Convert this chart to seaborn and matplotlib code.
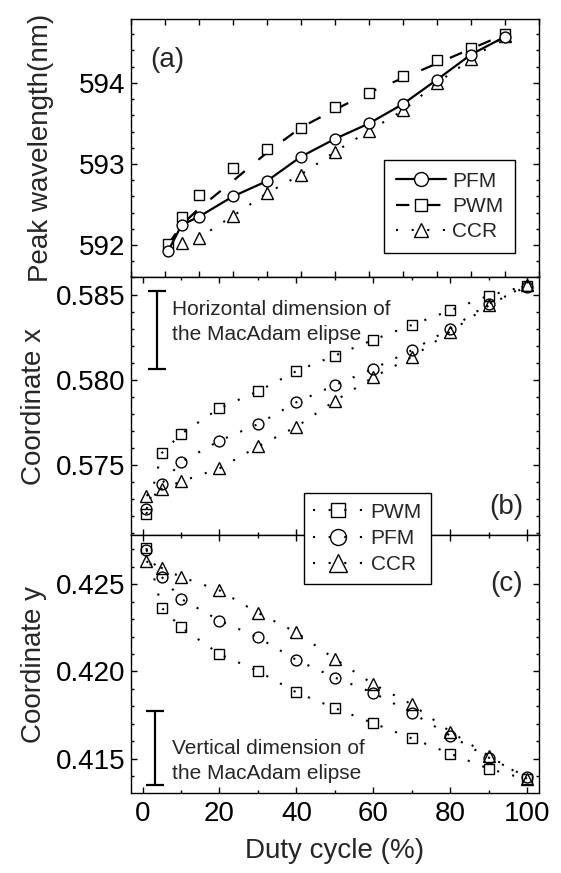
import numpy as np
import pandas as pd
import matplotlib
matplotlib.use("Agg")
import matplotlib.pyplot as plt
import seaborn as sns
from matplotlib.lines import Line2D
from matplotlib.ticker import MultipleLocator, FormatStrFormatter

# ---------------- data ----------------
duty = [1, 5, 10, 20, 30, 40, 50, 60, 70, 80, 90, 100]

# (a) peak wavelength (nm)
peak_pfm = [591.93, 592.25, 592.35, 592.60, 592.79, 593.09, 593.31, 593.50, 593.74, 594.04, 594.35, 594.57]
peak_pwm = [592.01, 592.35, 592.62, 592.95, 593.18, 593.44, 593.70, 593.87, 594.09, 594.28, 594.43, 594.60]
duty_ccr_a = [5, 10, 20, 30, 40, 50, 60, 70, 80, 90, 100]
peak_ccr = [592.03, 592.09, 592.36, 592.64, 592.87, 593.15, 593.41, 593.66, 594.00, 594.29, 594.58]
# dashed guide line for PWM in (a)
pwm_line_x = [1, 5, 10, 15, 20, 30, 40, 50, 60, 70, 80, 90, 100]
pwm_line_y = [592.01, 592.25, 592.45, 592.62, 592.79, 593.14, 593.45, 593.67, 593.88, 594.06, 594.24, 594.42, 594.60]

# (b) coordinate x
cx_pwm = [0.57210, 0.57568, 0.57680, 0.57832, 0.57931, 0.58050, 0.58141, 0.58234, 0.58321, 0.58407, 0.58494, 0.58552]
cx_pfm = [0.57240, 0.57388, 0.57514, 0.57641, 0.57738, 0.57867, 0.57967, 0.58064, 0.58172, 0.58299, 0.58446, 0.58546]
cx_ccr = [0.57318, 0.57357, 0.57401, 0.57478, 0.57607, 0.57723, 0.57875, 0.58014, 0.58133, 0.58282, 0.58436, 0.58558]

# (c) coordinate y
cy_pwm = [0.42707, 0.42365, 0.42253, 0.42100, 0.42002, 0.41880, 0.41790, 0.41703, 0.41616, 0.41529, 0.41442, 0.41381]
cy_pfm = [0.42697, 0.42542, 0.42417, 0.42292, 0.42195, 0.42066, 0.41965, 0.41877, 0.41763, 0.41632, 0.41506, 0.41394]
cy_ccr = [0.42631, 0.42593, 0.42542, 0.42465, 0.42336, 0.42224, 0.42072, 0.41927, 0.41811, 0.41655, 0.41516, 0.41384]

# MacAdam ellipse dimension bars
macadam_b = dict(x=3.8, center=0.58291, half=0.00229)
macadam_c = dict(x=3.3, center=0.41563, half=0.00213)

labels_a = ["PFM", "PWM", "CCR"]
labels_bc = ["PWM", "PFM", "CCR"]

# ---------------- style ----------------
sns.set_theme(style="ticks")
plt.rcParams["font.family"] = ["Liberation Sans", "DejaVu Sans"]
plt.rcParams["axes.linewidth"] = 1.0
plt.rcParams["axes.edgecolor"] = "black"
plt.rcParams["xtick.color"] = "black"
plt.rcParams["ytick.color"] = "black"

DOT = (0, (1.0, 6.5))
DASH = (0, (6.0, 8.0))

fig = plt.figure(figsize=(5.61, 8.73), dpi=100)
gs = fig.add_gridspec(3, 1, left=0.233, right=0.961, top=0.978, bottom=0.0916, hspace=0)
ax_a = fig.add_subplot(gs[0])
ax_b = fig.add_subplot(gs[1])
ax_c = fig.add_subplot(gs[2])

common_marker = dict(color="black", markeredgecolor="black", markeredgewidth=1.0)

# ---- (a)
sns.lineplot(x=duty_ccr_a, y=peak_ccr, ax=ax_a, linestyle=DOT, linewidth=1.5,
             marker="^", markersize=8.2, markerfacecolor="white", **common_marker)
sns.lineplot(x=pwm_line_x, y=pwm_line_y, ax=ax_a, linestyle=DASH, linewidth=1.6, color="black")
sns.lineplot(x=duty, y=peak_pwm, ax=ax_a, linestyle="none",
             marker="s", markersize=7.0, markerfacecolor="white", **common_marker)
sns.lineplot(x=duty, y=peak_pfm, ax=ax_a, linestyle="-", linewidth=1.6,
             marker="o", markersize=7.8, markerfacecolor="white", **common_marker)

# ---- (b)
for yy, mk, ms in [(cx_pwm, "s", 6.8), (cx_pfm, "o", 7.8), (cx_ccr, "^", 8.3)]:
    sns.lineplot(x=duty, y=yy, ax=ax_b, linestyle=DOT, linewidth=1.5,
                 marker=mk, markersize=ms, markerfacecolor="none", **common_marker)

# ---- (c)
for yy, mk, ms in [(cy_pwm, "s", 6.8), (cy_pfm, "o", 7.8), (cy_ccr, "^", 8.3)]:
    sns.lineplot(x=duty, y=yy, ax=ax_c, linestyle=DOT, linewidth=1.5,
                 marker=mk, markersize=ms, markerfacecolor="none", **common_marker)

# MacAdam bars
for ax, m in [(ax_b, macadam_b), (ax_c, macadam_c)]:
    ax.errorbar([m["x"]], [m["center"]], yerr=[m["half"]], fmt="none", ecolor="black",
                elinewidth=1.6, capsize=6.5, capthick=1.6)
ax_b.text(7.7, 0.58340, "Horizontal dimension of\nthe MacAdam elipse", fontsize=15,
          ha="left", va="center", linespacing=1.4)
ax_c.text(7.7, 0.41486, "Vertical dimension of\nthe MacAdam elipse", fontsize=15,
          ha="left", va="center", linespacing=1.4)

# ---------------- axes ----------------
ax_a.set_xlim(-10, 110)
ax_a.xaxis.set_major_locator(MultipleLocator(10))
ax_a.set_ylim(591.606, 594.785)
ax_a.yaxis.set_major_locator(MultipleLocator(1))
ax_a.yaxis.set_minor_locator(MultipleLocator(0.2))
ax_a.yaxis.set_major_formatter(FormatStrFormatter("%d"))

for ax in (ax_b, ax_c):
    ax.set_xlim(-3.07, 103.07)
    ax.xaxis.set_major_locator(MultipleLocator(20))
    ax.xaxis.set_minor_locator(MultipleLocator(10))
    ax.yaxis.set_major_locator(MultipleLocator(0.005))
    ax.yaxis.set_minor_locator(MultipleLocator(0.001))
    ax.yaxis.set_major_formatter(FormatStrFormatter("%.3f"))
ax_b.set_ylim(0.57086, 0.58602)
ax_c.set_ylim(0.41303, 0.42782)

for ax in (ax_a, ax_b, ax_c):
    ax.tick_params(which="both", direction="in", top=True, right=True, width=1.0,
                   labelsize=20, pad=4)
    ax.tick_params(which="major", length=4.2)
    ax.tick_params(which="minor", length=2.3)
    ax.set_xlabel("")
    for s in ax.spines.values():
        s.set_linewidth(1.0)
        s.set_color("black")
ax_a.tick_params(labelbottom=False)
ax_b.tick_params(labelbottom=False)
ax_c.tick_params(axis="x", pad=6)

ax_a.set_ylabel("Peak wavelength(nm)", fontsize=20)
ax_b.set_ylabel("Coordinate x", fontsize=20)
ax_c.set_ylabel("Coordinate y", fontsize=20)
ax_a.yaxis.set_label_coords(-0.188, 0.5)
ax_b.yaxis.set_label_coords(-0.205, 0.5)
ax_c.yaxis.set_label_coords(-0.205, 0.5)
ax_c.set_xlabel("Duty cycle (%)", fontsize=20, labelpad=8)

ax_a.text(0.047, 0.841, "(a)", transform=ax_a.transAxes, fontsize=20, ha="left", va="center")
ax_b.text(0.961, 0.107, "(b)", transform=ax_b.transAxes, fontsize=20, ha="right", va="center")
ax_c.text(0.961, 0.809, "(c)", transform=ax_c.transAxes, fontsize=20, ha="right", va="center")

# ---------------- legends ----------------
h_a = [
    Line2D([], [], color="black", linestyle="-", linewidth=1.6, marker="o", markersize=10,
           markerfacecolor="white", markeredgecolor="black", markeredgewidth=1.0),
    Line2D([], [], color="black", linestyle=DASH, linewidth=1.6, marker="s", markersize=9,
           markerfacecolor="white", markeredgecolor="black", markeredgewidth=1.0),
    Line2D([], [], color="black", linestyle=DOT, linewidth=1.5, marker="^", markersize=10.5,
           markerfacecolor="white", markeredgecolor="black", markeredgewidth=1.0),
]
leg_a = ax_a.legend(h_a, labels_a, loc="upper right", bbox_to_anchor=(0.94, 0.4535),
                    borderaxespad=0, fontsize=15, frameon=True, fancybox=False,
                    edgecolor="black", framealpha=1, handlelength=2.4, handletextpad=0.3,
                    labelspacing=0.3, borderpad=0.55)
leg_a.get_frame().set_linewidth(1.0)

h_bc = [
    Line2D([], [], color="black", linestyle=DOT, linewidth=1.5, marker=m, markersize=s,
           markerfacecolor="none", markeredgecolor="black", markeredgewidth=1.0)
    for m, s in [("s", 10), ("o", 11.5), ("^", 13)]
]
leg_bc = fig.legend(h_bc, labels_bc, loc="upper left", bbox_to_anchor=(0.542, 0.435),
                    borderaxespad=0, fontsize=15, frameon=True, fancybox=False,
                    edgecolor="black", framealpha=1, handlelength=2.4, handletextpad=0.35,
                    labelspacing=0.35, borderpad=0.45)
leg_bc.get_frame().set_linewidth(1.0)

fig.savefig("out.png", dpi=100)
